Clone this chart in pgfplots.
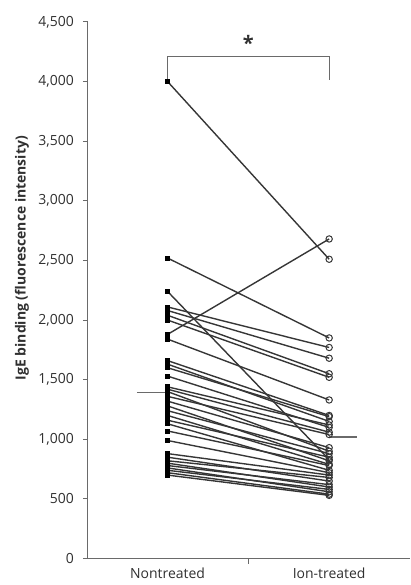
\documentclass[border=0pt]{standalone}
\usepackage{pgfplots}
\pgfplotsset{compat=1.18}
\usepackage{fontspec}
\setmainfont{Open Sans}
\definecolor{txt}{HTML}{303030}
\definecolor{axln}{HTML}{6A6A6A}
\definecolor{pairln}{HTML}{363636}
\begin{document}
\begin{tikzpicture}
\begin{axis}[
  scale only axis,
  width=161.5pt, height=269pt,
  xmin=-0.494, xmax=1.5,
  ymin=0, ymax=4500,
  axis x line=bottom, axis y line=left,
  axis line style={-, axln, line width=0.6pt},
  tick style={axln, line width=0.5pt},
  tick align=outside,
  major tick length=2.5pt,
  ytick={0,500,...,4500},
  xtick={0.5}, xticklabels={},
  extra x ticks={0,1},
  extra x tick labels={Nontreated,Ion-treated},
  extra x tick style={major tick length=0pt, tick label style={yshift=-1pt}},
  /pgf/number format/1000 sep={,},
  /pgf/number format/assume math mode=true,
  tick label style={font=\fontsize{7}{8}\selectfont, text=txt},
  yticklabel style={xshift=-1pt},
  ylabel={IgE binding (fluorescence intensity)},
  ylabel style={font=\fontsize{7}{8}\selectfont\bfseries, text=txt,
    at={(axis description cs:-0.204,0.56)}, anchor=center},
  clip=false,
  pair/.style={pairln, line width=0.7pt, no marks},
]
\coordinate (bl) at (rel axis cs:0,0);
\coordinate (tr) at (rel axis cs:1,1);

% paired measurements: nontreated -> ion-treated
\addplot[pair] coordinates {(0,4000) (1,2510)};
\addplot[pair] coordinates {(0,2520) (1,1850)};
\addplot[pair] coordinates {(0,2240) (1,830)};
\addplot[pair] coordinates {(0,2110) (1,1770)};
\addplot[pair] coordinates {(0,2080) (1,1680)};
\addplot[pair] coordinates {(0,2040) (1,1550)};
\addplot[pair] coordinates {(0,2000) (1,1520)};
\addplot[pair] coordinates {(0,1880) (1,2680)};
\addplot[pair] coordinates {(0,1840) (1,1330)};
\addplot[pair] coordinates {(0,1660) (1,1200)};
\addplot[pair] coordinates {(0,1630) (1,1150)};
\addplot[pair] coordinates {(0,1600) (1,1190)};
\addplot[pair] coordinates {(0,1530) (1,1100)};
\addplot[pair] coordinates {(0,1440) (1,1120)};
\addplot[pair] coordinates {(0,1420) (1,1060)};
\addplot[pair] coordinates {(0,1400) (1,900)};
\addplot[pair] coordinates {(0,1360) (1,1040)};
\addplot[pair] coordinates {(0,1320) (1,930)};
\addplot[pair] coordinates {(0,1280) (1,820)};
\addplot[pair] coordinates {(0,1240) (1,880)};
\addplot[pair] coordinates {(0,1200) (1,790)};
\addplot[pair] coordinates {(0,1160) (1,850)};
\addplot[pair] coordinates {(0,1130) (1,740)};
\addplot[pair] coordinates {(0,1070) (1,780)};
\addplot[pair] coordinates {(0,990) (1,720)};
\addplot[pair] coordinates {(0,880) (1,700)};
\addplot[pair] coordinates {(0,850) (1,650)};
\addplot[pair] coordinates {(0,820) (1,680)};
\addplot[pair] coordinates {(0,800) (1,600)};
\addplot[pair] coordinates {(0,780) (1,620)};
\addplot[pair] coordinates {(0,760) (1,560)};
\addplot[pair] coordinates {(0,740) (1,580)};
\addplot[pair] coordinates {(0,720) (1,540)};
\addplot[pair] coordinates {(0,700) (1,530)};

% group means
\addplot[axln, line width=0.6pt, no marks] coordinates {(-0.19,1390) (0,1390)};
\addplot[axln, line width=0.6pt, no marks] coordinates {(1,1020) (1.17,1020)};

% nontreated values
\addplot[only marks, mark=square*, mark size=1.0pt, black] coordinates {
 (0,4000) (0,2520) (0,2240) (0,2110) (0,2080) (0,2040) (0,2000) (0,1880)
 (0,1840) (0,1660) (0,1630) (0,1600) (0,1530) (0,1440) (0,1420) (0,1400)
 (0,1360) (0,1320) (0,1280) (0,1240) (0,1200) (0,1160) (0,1130) (0,1070)
 (0,990) (0,880) (0,850) (0,820) (0,800) (0,780) (0,760) (0,740) (0,720) (0,700)};

% ion-treated values
\addplot[only marks, mark=o, mark size=1.6pt,
  mark options={draw=pairln, fill=white, line width=0.5pt}] coordinates {
 (1,2510) (1,1850) (1,830) (1,1770) (1,1680) (1,1550) (1,1520) (1,2680)
 (1,1330) (1,1200) (1,1150) (1,1190) (1,1100) (1,1120) (1,1060) (1,900)
 (1,1040) (1,930) (1,820) (1,880) (1,790) (1,850) (1,740) (1,780)
 (1,720) (1,700) (1,650) (1,680) (1,600) (1,620) (1,560) (1,580) (1,540) (1,530)};

% significance bracket
\addplot[axln, line width=0.6pt, no marks] coordinates {(0,4020) (0,4210) (1,4210) (1,4010)};
\node[text=txt, font=\fontsize{10}{10}\selectfont\bfseries] at (axis cs:0.5,4320) {*};
\end{axis}
\path ([xshift=-44pt,yshift=-12.5pt]bl) rectangle ([yshift=11pt]tr);
\end{tikzpicture}
\end{document}
